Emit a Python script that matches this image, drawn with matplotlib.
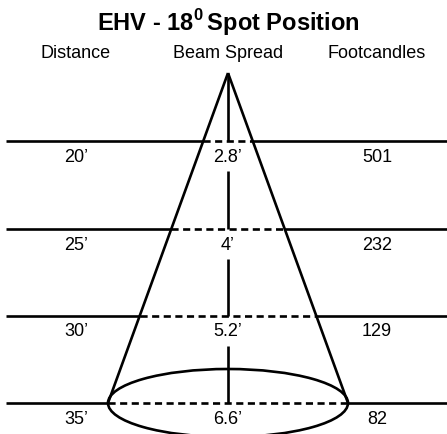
import matplotlib
matplotlib.use("Agg")
import matplotlib.pyplot as plt
from matplotlib.patches import Ellipse
import numpy as np

plt.rcParams['font.family'] = ['Liberation Sans', 'DejaVu Sans']
plt.rcParams['mathtext.fontset'] = 'custom'
plt.rcParams['mathtext.rm'] = 'Liberation Sans'
plt.rcParams['mathtext.bf'] = 'Liberation Sans:bold'

title = "EHV - 18$^{\\mathbf{0}}\\,$Spot Position"
headers = ["Distance", "Beam Spread", "Footcandles"]
distances = ["20\u2019", "25\u2019", "30\u2019", "35\u2019"]
spreads = ["2.8\u2019", "4\u2019", "5.2\u2019", "6.6\u2019"]
footcandles = ["501", "232", "129", "82"]

W, H = 447, 434
fig = plt.figure(figsize=(W / 100, H / 100), dpi=100)
ax = fig.add_axes([0, 0, 1, 1])
ax.set_xlim(0, W)
ax.set_ylim(H, 0)
ax.axis('off')

lw = 1.9
cx = 228
apex_y = 73
row_y = [141, 229, 316, 403]
base_half = 120
ell_h = 34
col_x = [76, cx, 377]

def edge_x(y, side):
    frac = (y - apex_y) / (row_y[-1] - apex_y)
    return cx + side * base_half * frac

for side in (-1, 1):
    ax.plot([cx, edge_x(row_y[-1], side)], [apex_y, row_y[-1]], color='black', lw=lw,
            solid_capstyle='butt', solid_joinstyle='miter')

for y in row_y:
    xl, xr = edge_x(y, -1), edge_x(y, 1)
    ax.plot([6, xl], [y, y], color='black', lw=lw, solid_capstyle='butt')
    ax.plot([xr, W], [y, y], color='black', lw=lw, solid_capstyle='butt')
    ax.plot([xl, xr], [y, y], color='black', lw=lw, ls=(0, (2.7, 1.7)), dash_capstyle='butt')

tops = [apex_y] + [y + 30 for y in row_y[:-1]]
for t, b in zip(tops, row_y):
    ax.plot([cx, cx], [t, b], color='black', lw=lw, solid_capstyle='butt')

ax.add_patch(Ellipse((cx, row_y[-1]), 2 * base_half, 2 * ell_h, fill=False, ec='black', lw=lw))

ax.text(cx, 23, title, ha='center', va='center', fontsize=17, fontweight='bold')
for x, h in zip(col_x, headers):
    ax.text(x, 53, h, ha='center', va='center', fontsize=13)
for y, d, s, f in zip(row_y, distances, spreads, footcandles):
    ax.text(col_x[0], y + 16, d, ha='center', va='center', fontsize=13)
    ax.text(col_x[1], y + 16, s, ha='center', va='center', fontsize=13)
    ax.text(col_x[2], y + 16, f, ha='center', va='center', fontsize=13)

fig.savefig("out.png", dpi=100)
